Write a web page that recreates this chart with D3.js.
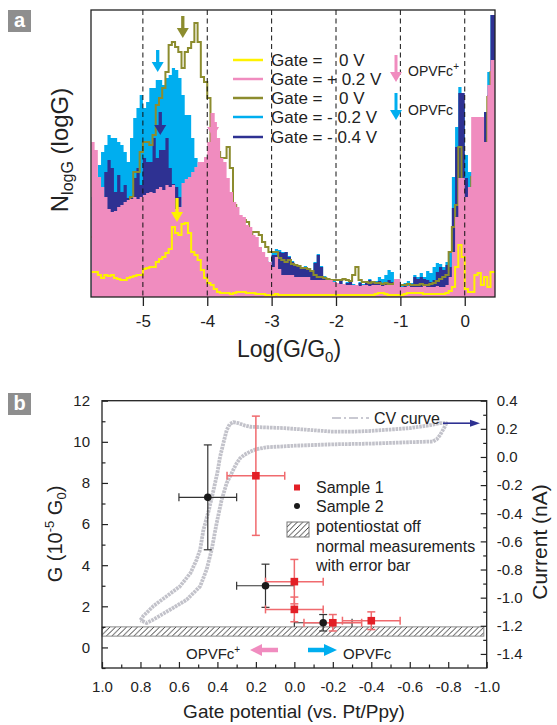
<!DOCTYPE html>
<html>
<head>
<meta charset="utf-8">
<script src="https://cdnjs.cloudflare.com/ajax/libs/d3/7.8.5/d3.min.js"></script>
<style>
body { margin: 0; background: #fff; }
svg { font-family: "Liberation Sans", Arial, sans-serif; }
</style>
</head>
<body>
<svg id="fig" width="557" height="725"></svg>
<script>
// ---------- panel a : log-binned conductance histograms ----------
var binStart = -5.8, binWidth = 0.05;   // 125 bins, -5.8 .. 0.45
var ticksA = [-5, -4, -3, -2, -1, 0];

var histGate0first = [   // yellow, gate = 0 V (first)
  25, 25, 22, 19, 22, 21, 22, 19, 18, 17,
  17, 19, 20, 21, 22, 22, 28, 29, 30, 30,
  35, 38, 40, 44, 48, 70, 64, 62, 73, 74,
  64, 45, 42, 37, 27, 19, 14, 12, 8, 5,
  4, 4, 4, 3, 4, 5, 5, 5, 4, 4,
  4, 3, 3, 3, 2, 2, 2, 3, 2, 2,
  2, 2, 2, 2, 2, 2, 2, 2, 2, 2,
  2, 2, 2, 2, 2, 2, 2, 2, 2, 2,
  2, 2, 2, 2, 2, 2, 2, 2, 3, 4,
  4, 3, 2, 2, 2, 2, 2, 3, 4, 4,
  4, 4, 4, 3, 3, 3, 3, 3, 3, 3,
  4, 6, 10, 30, 52, 40, 8, 5, 5, 22,
  24, 12, 20, 10, 25];
var histGatePlus02 = [   // pink, gate = +0.2 V
  155, 147, 120, 110, 100, 88, 85, 86, 90, 92,
  95, 97, 98, 100, 98, 100, 102, 104, 105, 104,
  108, 110, 107, 112, 110, 112, 88, 90, 114, 118,
  120, 125, 130, 135, 135, 140, 155, 184, 175, 159,
  139, 135, 119, 105, 95, 90, 82, 80, 72, 70,
  62, 60, 50, 45, 40, 35, 30, 40, 28, 22,
  22, 22, 22, 20, 20, 20, 20, 20, 17, 17,
  17, 17, 17, 17, 17, 15, 14, 13, 13, 12,
  12, 12, 12, 11, 12, 12, 11, 12, 12, 12,
  11, 12, 12, 12, 18, 18, 10, 10, 11, 10,
  10, 10, 10, 11, 10, 10, 10, 11, 10, 10,
  12, 20, 45, 80, 119, 119, 100, 110, 180, 180,
  180, 180, 155, 212, 237];
var histGate0second = [  // olive, gate = 0 V (second)
  60, 60, 60, 60, 60, 60, 60, 60, 60, 60,
  60, 80, 100, 125, 125, 145, 155, 155, 152, 162,
  192, 199, 209, 225, 252, 255, 250, 245, 229, 245,
  249, 255, 274, 255, 220, 215, 199, 149, 145, 145,
  139, 139, 150, 129, 92, 79, 79, 77, 75, 62,
  65, 65, 62, 55, 50, 45, 45, 45, 39, 37,
  35, 37, 33, 32, 31, 29, 29, 28, 26, 22,
  20, 20, 19, 18, 17, 17, 17, 17, 18, 17,
  16, 22, 30, 17, 15, 15, 14, 15, 14, 14,
  13, 14, 13, 13, 14, 12, 12, 12, 13, 12,
  12, 12, 13, 12, 12, 13, 14, 16, 18, 20,
  22, 45, 70, 92, 150, 99, 99, 99, 120, 130,
  140, 150, 150, 200, 225];
var histGateMinus02 = [  // light blue, gate = -0.2 V
  100, 100, 132, 145, 152, 162, 159, 159, 155, 152,
  145, 135, 159, 179, 189, 202, 189, 195, 209, 209,
  217, 217, 212, 219, 222, 229, 227, 219, 202, 182,
  182, 159, 139, 77, 75, 73, 71, 69, 67, 65,
  62, 60, 58, 56, 55, 54, 52, 50, 48, 46,
  44, 42, 40, 38, 36, 34, 44, 48, 47, 45,
  45, 41, 36, 33, 31, 29, 31, 28, 26, 35,
  43, 31, 21, 18, 18, 16, 14, 18, 13, 15,
  17, 13, 11, 15, 13, 16, 18, 15, 16, 20,
  18, 22, 27, 25, 15, 16, 12, 14, 16, 14,
  22, 20, 24, 20, 26, 24, 30, 34, 33, 30,
  35, 45, 120, 170, 210, 189, 142, 125, 125, 152,
  152, 170, 185, 225, 282];
var histGateMinus04 = [  // dark blue, gate = -0.4 V
  0, 0, 0, 0, 125, 137, 129, 105, 122, 105,
  112, 99, 99, 119, 129, 112, 139, 135, 135, 159,
  139, 147, 147, 159, 129, 113, 110, 100, 90, 85,
  80, 78, 76, 74, 72, 70, 68, 66, 64, 62,
  60, 58, 56, 54, 53, 52, 50, 48, 46, 44,
  42, 40, 38, 36, 34, 32, 42, 42, 45, 44,
  45, 40, 35, 32, 30, 28, 30, 27, 25, 34,
  42, 30, 20, 17, 17, 15, 13, 17, 12, 14,
  16, 12, 10, 14, 12, 15, 17, 14, 15, 16,
  13, 14, 17, 15, 12, 14, 10, 12, 10, 12,
  20, 18, 20, 18, 17, 15, 17, 25, 30, 27,
  32, 30, 89, 150, 204, 204, 119, 109, 115, 135,
  150, 160, 185, 202, 282];

var legendA = ["Gate =", "Gate =", "Gate =", "Gate =", "Gate ="];
var legendAValue = ["0 V", "+ 0.2 V", "0 V", "- 0.2 V", "- 0.4 V"];

// peak markers (log G, arrow top count, arrow tip count)
var peakArrows = [
  {logG: -4.38, top: 281, tip: 259, color: "#8c8c2e"},
  {logG: -4.77, top: 247, tip: 225, color: "#00aeef"},
  {logG: -4.73, top: 185, tip: 162, color: "#2e3192"},
  {logG: -3.91, top: 184, tip: 160, color: "#f08cbf"},
  {logG: -4.47, top: 99, tip: 75, color: "#fff200"}
];

// ---------- panel b : gate dependence ----------
var ticksBx = [1.0, 0.8, 0.6, 0.4, 0.2, 0, -0.2, -0.4, -0.6, -0.8, -1.0];
var minorBx = [0.9, 0.7, 0.5, 0.3, 0.1, -0.1, -0.3, -0.5, -0.7, -0.9];
var ticksG = [0, 2, 4, 6, 8, 10, 12];
var minorG = [-1, 1, 3, 5, 7, 9, 11];
var ticksI = [0.4, 0.2, 0, -0.2, -0.4, -0.6, -0.8, -1.0, -1.2, -1.4];
var minorI = [0.3, 0.1, -0.1, -0.3, -0.5, -0.7, -0.9, -1.1, -1.3];

var sample1V = [0.2, 0.0, 0.0, -0.2, -0.4];
var sample1G = [8.35, 3.2, 1.85, 1.2, 1.3];
var sample1Verr = [0.15, 0.15, 0.15, 0.15, 0.15];
var sample1Gerr = [2.9, 1.08, 0.6, 0.4, 0.43];

var sample2V = [0.45, 0.15, -0.15];
var sample2G = [7.3, 3.0, 1.2];
var sample2Verr = [0.15, 0.15, 0.15];
var sample2Gerr = [2.55, 1.05, 0.4];

var offBandLow = 0.55, offBandHigh = 1.0;   // potentiostat off

// cyclic voltammogram (V, nA)
var cvV = [0.80, 0.785, 0.733, 0.664, 0.595, 0.54, 0.508, 0.49, 0.473, 0.445,
  0.42, 0.40, 0.386, 0.365, 0.352, 0.335, 0.317, 0.29, 0.26, 0.23,
  0.15, 0.05, -0.03, -0.1, -0.2, -0.3, -0.4, -0.5, -0.6, -0.7,
  -0.757, -0.79, -0.78, -0.757, -0.74, -0.72, -0.6, -0.4, -0.2, 0.0,
  0.074, 0.143, 0.2, 0.23, 0.26, 0.282, 0.30, 0.317, 0.352, 0.378,
  0.404, 0.43, 0.456, 0.49, 0.56, 0.664, 0.733, 0.768, 0.80];
var cvI = [-1.16, -1.13, -1.06, -0.99, -0.92, -0.825, -0.73, -0.66, -0.52, -0.38,
  -0.234, -0.11, 0.003, 0.12, 0.19, 0.235, 0.247, 0.24, 0.225, 0.215,
  0.21, 0.205, 0.197, 0.19, 0.18, 0.18, 0.185, 0.195, 0.205, 0.225,
  0.24, 0.24, 0.21, 0.155, 0.125, 0.11, 0.105, 0.095, 0.09, 0.08,
  0.074, 0.069, 0.055, 0.038, 0.015, -0.009, -0.045, -0.09, -0.186, -0.305,
  -0.47, -0.66, -0.80, -0.92, -1.015, -1.10, -1.156, -1.18, -1.16];

var svg = d3.select("#fig");
var defs = svg.append("defs");

function panelLabel(x, y, t) {
  svg.append("rect").attr("x", x).attr("y", y).attr("width", 23).attr("height", 22)
     .attr("fill", "#8e8e8e");
  svg.append("text").attr("x", x + 11.5).attr("y", y + 17).attr("text-anchor", "middle")
     .attr("font-size", "20px").attr("font-weight", "bold").attr("fill", "#fff").text(t);
}

// ================= panel a =================
var xA = d3.scaleLinear().domain([-5.806, 0.47]).range([91, 495]);
var yA = d3.scaleLinear().domain([0, 287]).range([297, 10]);

defs.append("clipPath").attr("id", "clipA").append("rect")
    .attr("x", 91).attr("y", 10).attr("width", 404).attr("height", 287);

function steps(vals) {
  var pts = vals.map(function(v, i) { return [binStart + i * binWidth, v]; });
  pts.push([xA.domain()[1], vals[vals.length - 1]]);
  return pts;
}
var areaA = d3.area().curve(d3.curveStepAfter)
    .x(function(d) { return xA(d[0]); })
    .y0(yA(0))
    .y1(function(d) { return yA(d[1]); });
var lineA = d3.line().curve(d3.curveStepAfter)
    .x(function(d) { return xA(d[0]); })
    .y(function(d) { return yA(d[1]); });

var gA = svg.append("g").attr("clip-path", "url(#clipA)");
gA.append("path").attr("d", areaA(steps(histGateMinus02))).attr("fill", "#00aeef");
gA.append("path").attr("d", areaA(steps(histGateMinus04))).attr("fill", "#2e3192");
gA.append("path").attr("d", lineA(steps(histGate0second))).attr("fill", "none")
   .attr("stroke", "#8c8c2e").attr("stroke-width", 2);
gA.append("path").attr("d", areaA(steps(histGatePlus02))).attr("fill", "#f08cbf");
gA.append("path").attr("d", lineA(steps(histGate0first))).attr("fill", "none")
   .attr("stroke", "#fff200").attr("stroke-width", 2);

// dashed decade lines
svg.selectAll(".gridA").data(ticksA).enter().append("line")
   .attr("x1", function(d) { return xA(d); }).attr("x2", function(d) { return xA(d); })
   .attr("y1", yA(287)).attr("y2", yA(0))
   .attr("stroke", "#111").attr("stroke-width", 1).attr("stroke-dasharray", "5,3.5");

svg.append("rect").attr("x", 91).attr("y", 10).attr("width", 404).attr("height", 287)
   .attr("fill", "none").attr("stroke", "#222").attr("stroke-width", 1.3);

var axA = svg.append("g").attr("transform", "translate(0,297)")
   .call(d3.axisBottom(xA).tickValues(ticksA).tickSize(9).tickPadding(9)
         .tickFormat(function(d) { return d; }));
axA.select(".domain").remove();
axA.selectAll("line").attr("stroke", "#222").attr("stroke-width", 1.3);
axA.selectAll("text").attr("font-size", "17px").attr("fill", "#222")
   .attr("font-family", "Liberation Sans, Arial, sans-serif");

var xTitleA = svg.append("text").attr("x", 289).attr("y", 357).attr("text-anchor", "middle")
   .attr("font-size", "23px").attr("fill", "#222");
xTitleA.append("tspan").text("Log(G/G");
xTitleA.append("tspan").attr("font-size", "15px").attr("dy", 5).text("0");
xTitleA.append("tspan").attr("dy", -5).text(")");

var yTitleA = svg.append("text").attr("transform", "translate(68,150) rotate(-90)")
   .attr("text-anchor", "middle").attr("font-size", "24px").attr("fill", "#222");
yTitleA.append("tspan").text("N");
yTitleA.append("tspan").attr("font-size", "16px").attr("dy", 5).text("logG");
yTitleA.append("tspan").attr("dy", -5).text(" (logG)");

function downArrow(x, yTop, yTip, color, shaft) {
  svg.append("line").attr("x1", x).attr("x2", x).attr("y1", yTop).attr("y2", yTip - 8)
     .attr("stroke", color).attr("stroke-width", shaft);
  svg.append("path").attr("d", "M" + (x - 6) + "," + (yTip - 10) + "L" + (x + 6) + "," + (yTip - 10)
     + "L" + x + "," + yTip + "Z").attr("fill", color);
}
peakArrows.forEach(function(a) {
  downArrow(xA(a.logG), yA(a.top), yA(a.tip), a.color, 3.3);
});

// legend a
var legColors = ["#fff200", "#f08cbf", "#8c8c2e", "#00aeef", "#2e3192"];
var legY = [60, 79, 98, 117, 137];
legColors.forEach(function(c, i) {
  svg.append("line").attr("x1", 233).attr("x2", 263).attr("y1", legY[i]).attr("y2", legY[i])
     .attr("stroke", c).attr("stroke-width", 2.5);
  svg.append("text").attr("x", 271).attr("y", legY[i] + 6).attr("font-size", "17px")
     .attr("fill", "#222").text(legendA[i]);
  svg.append("text").attr("x", legendAValue[i].length > 3 ? 327 : 339).attr("y", legY[i] + 6)
     .attr("font-size", "17px").attr("fill", "#222").text(legendAValue[i]);
});
downArrow(396, 55, 82, "#f08cbf", 3);
downArrow(396, 93, 120, "#00aeef", 3);
var op1 = svg.append("text").attr("x", 408).attr("y", 76).attr("font-size", "14px").attr("fill", "#222");
op1.append("tspan").text("OPVFc");
op1.append("tspan").attr("font-size", "10px").attr("dy", -6).text("+");
svg.append("text").attr("x", 408).attr("y", 115).attr("font-size", "14px").attr("fill", "#222").text("OPVFc");

panelLabel(8, 10, "a");

// ================= panel b =================
var xB = d3.scaleLinear().domain([1, -1]).range([102, 486.7]);
var yG = d3.scaleLinear().domain([-1, 12]).range([668, 400.7]);
var yI = d3.scaleLinear().domain([-1.5, 0.4]).range([668, 400.7]);

var hatch = defs.append("pattern").attr("id", "hatch").attr("patternUnits", "userSpaceOnUse")
   .attr("width", 5.5).attr("height", 5.5);
hatch.append("path").attr("d", "M0,5.5L5.5,0M-1,1L1,-1M4.5,6.5L6.5,4.5")
   .attr("stroke", "#222").attr("stroke-width", 0.9);

svg.append("rect").attr("x", xB(1)).attr("y", yG(offBandHigh))
   .attr("width", xB(-0.985) - xB(1)).attr("height", yG(offBandLow) - yG(offBandHigh))
   .attr("fill", "url(#hatch)").attr("stroke", "#8a8a8a").attr("stroke-width", 1);

// CV curve
var cvLine = d3.line().x(function(d, i) { return xB(cvV[i]); }).y(function(d, i) { return yI(cvI[i]); });
svg.append("path").attr("d", cvLine(cvV)).attr("fill", "none")
   .attr("stroke", "#c2c2ca").attr("stroke-width", 3.8).attr("stroke-dasharray", "2.6,0.8")
   .attr("stroke-linejoin", "round");

function errorBars(V, G, eV, eG, color, w) {
  V.forEach(function(v, i) {
    var y = yG(G[i]), x = xB(v);
    var g = svg.append("g").attr("stroke", color).attr("stroke-width", w);
    g.append("line").attr("x1", xB(v + eV[i])).attr("x2", xB(v - eV[i])).attr("y1", y).attr("y2", y);
    g.append("line").attr("x1", xB(v + eV[i])).attr("x2", xB(v + eV[i])).attr("y1", y - 4).attr("y2", y + 4);
    g.append("line").attr("x1", xB(v - eV[i])).attr("x2", xB(v - eV[i])).attr("y1", y - 4).attr("y2", y + 4);
    g.append("line").attr("x1", x).attr("x2", x).attr("y1", yG(G[i] - eG[i])).attr("y2", yG(G[i] + eG[i]));
    g.append("line").attr("x1", x - 4).attr("x2", x + 4).attr("y1", yG(G[i] - eG[i])).attr("y2", yG(G[i] - eG[i]));
    g.append("line").attr("x1", x - 4).attr("x2", x + 4).attr("y1", yG(G[i] + eG[i])).attr("y2", yG(G[i] + eG[i]));
  });
}
errorBars(sample2V, sample2G, sample2Verr, sample2Gerr, "#333", 1.2);
errorBars(sample1V, sample1G, sample1Verr, sample1Gerr, "#f06a6e", 1.5);

svg.selectAll(".s2").data(sample2V).enter().append("circle")
   .attr("cx", function(d) { return xB(d); })
   .attr("cy", function(d, i) { return yG(sample2G[i]); })
   .attr("r", 3.8).attr("fill", "#1a1a1a");
svg.selectAll(".s1").data(sample1V).enter().append("rect")
   .attr("x", function(d) { return xB(d) - 3.8; })
   .attr("y", function(d, i) { return yG(sample1G[i]) - 3.8; })
   .attr("width", 7.6).attr("height", 7.6).attr("fill", "#e31f26");

// frame and axes
svg.append("rect").attr("x", 102).attr("y", 400.7).attr("width", 384.7).attr("height", 267.3)
   .attr("fill", "none").attr("stroke", "#222").attr("stroke-width", 1.3);

function styleAxis(g) {
  g.select(".domain").remove();
  g.selectAll("line").attr("stroke", "#222").attr("stroke-width", 1.2);
  g.selectAll("text").attr("font-size", "15px").attr("fill", "#222")
   .attr("font-family", "Liberation Sans, Arial, sans-serif");
}
var fmt1 = function(d) { return d.toFixed(1); };
styleAxis(svg.append("g").attr("transform", "translate(0,668)")
   .call(d3.axisBottom(xB).tickValues(ticksBx).tickSize(-6).tickPadding(13).tickFormat(fmt1)));
styleAxis(svg.append("g").attr("transform", "translate(0,668)")
   .call(d3.axisBottom(xB).tickValues(minorBx).tickSize(-3.5).tickFormat("")));
styleAxis(svg.append("g").attr("transform", "translate(102,0)")
   .call(d3.axisLeft(yG).tickValues(ticksG).tickSize(-6).tickPadding(12)));
styleAxis(svg.append("g").attr("transform", "translate(102,0)")
   .call(d3.axisLeft(yG).tickValues(minorG).tickSize(-3.5).tickFormat("")));
styleAxis(svg.append("g").attr("transform", "translate(486.7,0)")
   .call(d3.axisRight(yI).tickValues(ticksI).tickSize(-6).tickPadding(10).tickFormat(fmt1)));
styleAxis(svg.append("g").attr("transform", "translate(486.7,0)")
   .call(d3.axisRight(yI).tickValues(minorI).tickSize(-3.5).tickFormat("")));

svg.append("text").attr("x", 294).attr("y", 718).attr("text-anchor", "middle")
   .attr("font-size", "19px").attr("fill", "#222").text("Gate potential (vs. Pt/Ppy)");
var yTitleB = svg.append("text").attr("transform", "translate(62,534) rotate(-90)")
   .attr("text-anchor", "middle").attr("font-size", "20px").attr("fill", "#222");
yTitleB.append("tspan").text("G (10");
yTitleB.append("tspan").attr("font-size", "13px").attr("dy", -8).text("-5");
yTitleB.append("tspan").attr("dy", 8).text(" G");
yTitleB.append("tspan").attr("font-size", "13px").attr("dy", 4).text("0");
yTitleB.append("tspan").attr("dy", -4).text(")");
svg.append("text").attr("transform", "translate(547,542) rotate(-90)")
   .attr("text-anchor", "middle").attr("font-size", "21px").attr("fill", "#222").text("Current (nA)");

// CV legend + pointer to right axis
svg.append("line").attr("x1", 332).attr("x2", 369).attr("y1", 418).attr("y2", 418)
   .attr("stroke", "#b8b8c4").attr("stroke-width", 1.5).attr("stroke-dasharray", "9,3,2,3");
svg.append("text").attr("x", 374).attr("y", 424).attr("font-size", "16px").attr("fill", "#222").text("CV curve");
svg.append("line").attr("x1", 443).attr("x2", 472).attr("y1", yI(0.24)).attr("y2", yI(0.24))
   .attr("stroke", "#2e3192").attr("stroke-width", 1.6);
svg.append("path").attr("d", "M470," + (yI(0.24) - 3.5) + "L480," + yI(0.24) + "L470," + (yI(0.24) + 3.5) + "Z")
   .attr("fill", "#2e3192");

// legend b
svg.append("rect").attr("x", 294).attr("y", 484.5).attr("width", 6).attr("height", 6).attr("fill", "#e31f26");
svg.append("circle").attr("cx", 297).attr("cy", 506).attr("r", 3).attr("fill", "#1a1a1a");
svg.append("rect").attr("x", 287).attr("y", 522).attr("width", 22).attr("height", 15)
   .attr("fill", "url(#hatch)").attr("stroke", "#777").attr("stroke-width", 1);
var legB = ["Sample 1", "Sample 2", "potentiostat off", "normal measurements", "with error bar"];
var legBY = [493, 512, 532, 552, 571];
legB.forEach(function(t, i) {
  svg.append("text").attr("x", 316).attr("y", legBY[i]).attr("font-size", "16px")
     .attr("fill", "#222").text(t);
});

// direction arrows
svg.append("line").attr("x1", 278).attr("x2", 259).attr("y1", 650).attr("y2", 650)
   .attr("stroke", "#f08cbf").attr("stroke-width", 4.5);
svg.append("path").attr("d", "M262,644L250,650L262,656Z").attr("fill", "#f08cbf");
svg.append("line").attr("x1", 308).attr("x2", 327).attr("y1", 650).attr("y2", 650)
   .attr("stroke", "#00aeef").attr("stroke-width", 4.5);
svg.append("path").attr("d", "M324,644L337,650L324,656Z").attr("fill", "#00aeef");
var op2 = svg.append("text").attr("x", 186).attr("y", 659).attr("font-size", "15px").attr("fill", "#222");
op2.append("tspan").text("OPVFc");
op2.append("tspan").attr("font-size", "10px").attr("dy", -6).text("+");
svg.append("text").attr("x", 343).attr("y", 659).attr("font-size", "15px").attr("fill", "#222").text("OPVFc");

panelLabel(8, 393, "b");
</script>
</body>
</html>
